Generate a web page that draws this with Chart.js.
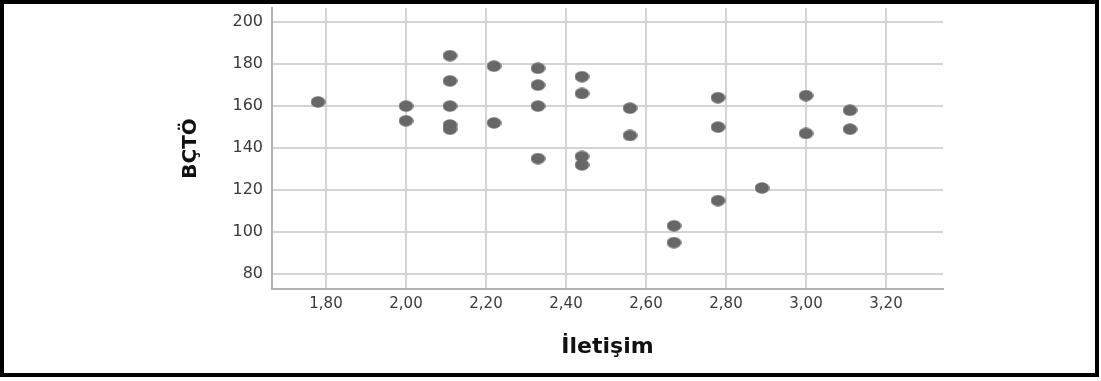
<!DOCTYPE html>
<html>
<head>
<meta charset="utf-8">
<script src="https://cdn.jsdelivr.net/npm/chart.js@4/dist/chart.umd.min.js"></script>
<style>
    html, body { margin: 0; padding: 0; background: #fff; }
    #wrap { position: relative; width: 1101px; height: 381px; }
    #frame { position: absolute; left: 0; top: 0; width: 1099px; height: 377px; border: 4px solid #000; box-sizing: border-box; pointer-events: none; }
    canvas { position: absolute; left: 0; top: 0; }
</style>
</head>
<body>
<div id="wrap">
    <canvas id="scatterChart" width="1101" height="381"></canvas>
    <div id="frame"></div>
</div>
<script>
// İletişim (x) and BÇTÖ (y), one pair per case
const iletisim = [1.78, 2.00, 2.00, 2.11, 2.11, 2.11, 2.11, 2.11, 2.22, 2.22, 2.33, 2.33, 2.33, 2.33,
    2.44, 2.44, 2.44, 2.44, 2.56, 2.56, 2.67, 2.67, 2.78, 2.78, 2.78, 2.89, 3.00, 3.00, 3.11, 3.11];
const bcto = [162, 160, 153, 184, 172, 160, 151, 149, 179, 152, 178, 170, 160, 135,
    174, 166, 136, 132, 159, 146, 103, 95, 164, 150, 115, 121, 165, 147, 158, 149];

const xTicks = [1.80, 2.00, 2.20, 2.40, 2.60, 2.80, 3.00, 3.20];
const yTicks = [80, 100, 120, 140, 160, 180, 200];

const xTitle = 'İletişim';
const yTitle = 'BÇTÖ';

// SPSS style oval marker
function makeMarker() {
    const c = document.createElement('canvas');
    c.width = 15;
    c.height = 12;
    const g = c.getContext('2d');
    g.fillStyle = '#676767';
    g.beginPath();
    g.ellipse(7.5, 6, 7.3, 5.8, 0, 0, Math.PI * 2);
    g.fill();
    return c;
}

const points = iletisim.map((x, i) => ({ x: x, y: bcto[i] }));
const fmt = v => v.toFixed(2).replace('.', ',');
const tickFont = { family: "'DejaVu Sans', sans-serif", size: 15 };
const titleFont = { family: "'DejaVu Sans', sans-serif", size: 22, weight: 'bold' };

const ctx = document.getElementById('scatterChart').getContext('2d');
new Chart(ctx, {
    type: 'scatter',
    data: {
        datasets: [{
            data: points,
            pointStyle: makeMarker(),
            pointRadius: 7,
            pointHoverRadius: 7
        }]
    },
    options: {
        responsive: false,
        animation: false,
        layout: { padding: { left: 0, top: 8, right: 158, bottom: 0 } },
        plugins: { legend: { display: false }, tooltip: { enabled: false } },
        scales: {
            x: {
                type: 'linear',
                min: 1.665,
                max: 3.3425,
                afterBuildTicks: s => { s.ticks = xTicks.map(v => ({ value: v })); },
                afterFit: s => { s.height = 92; s.paddingLeft = 0; s.paddingRight = 0; },
                grid: { color: '#d4d4d4', lineWidth: 2, drawTicks: false },
                border: { color: '#b3b3b3', width: 2 },
                ticks: { color: '#3a3a3a', font: tickFont, padding: 6, maxRotation: 0, callback: v => fmt(v) },
                title: { display: true, text: xTitle, color: '#111', font: titleFont, padding: { top: 0, bottom: 21 } }
            },
            y: {
                min: 72.9,
                max: 206.7,
                afterBuildTicks: s => { s.ticks = yTicks.map(v => ({ value: v })); },
                afterFit: s => { s.width = 272; s.paddingTop = 0; s.paddingBottom = 0; },
                grid: { color: '#d4d4d4', lineWidth: 2, drawTicks: false },
                border: { color: '#b3b3b3', width: 2 },
                ticks: { color: '#3a3a3a', font: { family: tickFont.family, size: 16 }, padding: 9 },
                title: { display: true, text: yTitle, color: '#111', font: { family: titleFont.family, size: 20, weight: 'bold' }, padding: { top: 179, bottom: 0 } }
            }
        }
    }
});
</script>
</body>
</html>
